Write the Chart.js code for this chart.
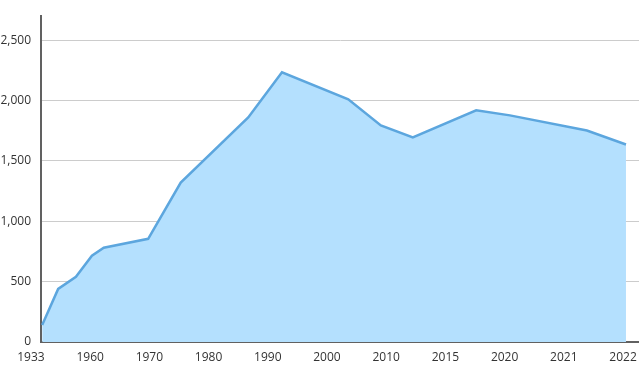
<!DOCTYPE html>
<html>
<head>
<meta charset="utf-8">
<script src="https://cdn.jsdelivr.net/npm/chart.js@4/dist/chart.umd.min.js"></script>
<style>
html,body{margin:0;padding:0;background:#fff;}
#wrap{width:639px;height:380px;position:relative;}
</style>
</head>
<body>
<div id="wrap"><canvas id="c"></canvas></div>
<script>
// Tick labels of the x axis (evenly spaced in the reference)
const tickLabels = ['1933','1960','1970','1980','1990','2000','2010','2015','2020','2021','2022'];
// Position of each data point, measured in units of the tick-label spacing
const positions = [0.19, 0.46, 0.76, 1.03, 1.23, 1.98, 2.53, 3.67, 4.24, 5.36, 5.91, 6.45, 7.52, 8.09, 9.39, 10.05];
// Series values
const values = [141, 440, 540, 714, 781, 855, 1321, 1860, 2234, 2010, 1794, 1694, 1919, 1877, 1752, 1636];
const yTicks = [0, 500, 1000, 1500, 2000, 2500];

const points = positions.map((p, i) => ({x: p, y: values[i]}));
const font = {family: "'Open Sans', sans-serif", size: 12};

new Chart(document.getElementById('c'), {
  type: 'line',
  data: {
    datasets: [{
      data: points,
      borderColor: '#5ca6de',
      backgroundColor: '#b4e0fe',
      borderWidth: 2.5,
      fill: 'origin',
      pointRadius: 0,
      tension: 0
    }]
  },
  options: {
    responsive: true,
    maintainAspectRatio: false,
    animation: false,
    layout: {padding: {top: 16, right: 0, left: 0, bottom: 0}},
    plugins: {legend: {display: false}, tooltip: {enabled: false}},
    scales: {
      x: {
        type: 'linear',
        min: 0.17,
        max: 10.27,
        afterBuildTicks: (s) => { s.ticks = tickLabels.map((_, i) => ({value: i})); },
        afterFit: (s) => { s.height = 38; s.paddingLeft = 0; s.paddingRight = 0; },
        grid: {display: false, drawTicks: false},
        border: {display: true, color: '#616161', width: 2},
        ticks: {
          autoSkip: false,
          maxRotation: 0,
          padding: 8,
          color: '#333',
          font: font,
          callback: (v) => tickLabels[v] !== undefined ? tickLabels[v] : ''
        }
      },
      y: {
        type: 'linear',
        min: 0,
        max: 2700,
        afterBuildTicks: (s) => { s.ticks = yTicks.map(v => ({value: v})); },
        afterFit: (s) => { s.width = 41; s.paddingTop = 0; s.paddingBottom = 0; },
        grid: {color: '#cccccc', lineWidth: 1, drawTicks: false},
        border: {display: true, color: '#616161', width: 2},
        ticks: {
          padding: 10,
          color: '#333',
          font: font,
          callback: (v) => v.toLocaleString('en-US')
        }
      }
    }
  }
});
</script>
</body>
</html>
